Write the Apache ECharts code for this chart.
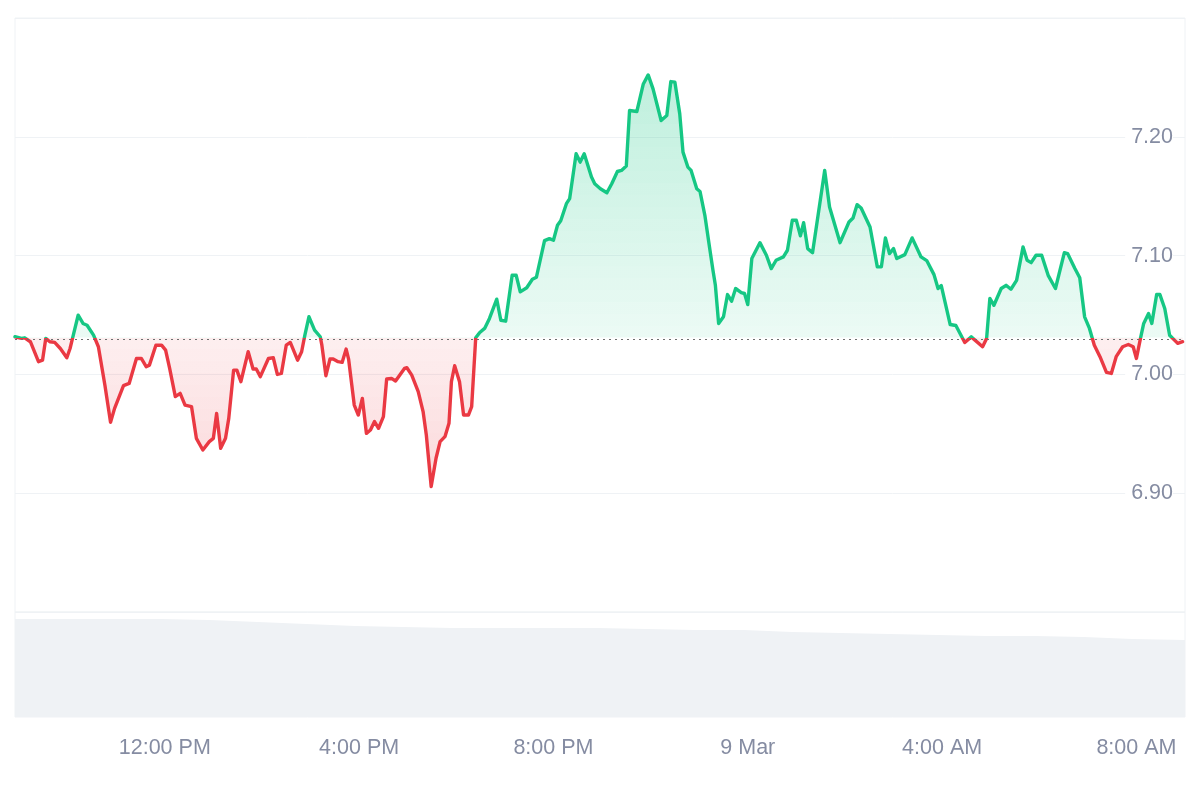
<!DOCTYPE html>
<html><head><meta charset="utf-8">
<script src="https://cdn.jsdelivr.net/npm/echarts@6/dist/echarts.min.js"></script>
<style>html,body{margin:0;padding:0;background:#fff}#c{width:1200px;height:800px}</style>
</head><body><div id="c"></div>
<script>
// ---- data ----
const startTime = '2024-03-08T08:55:00';
const baseline = 7.031;
const priceMinutes = [0,8,12,19,29,34,38,43,49,56,64,68,72,78,84,89,97,103,111,118,123,134,141,150,156,162,166,174,181,186,191,198,204,210,218,224,232,240,245,249,254,260,264,270,274,279,288,294,298,303,313,319,324,329,335,340,349,354,358,363,370,377,379,384,389,393,399,404,409,412,419,424,429,434,439,444,449,455,459,465,470,481,484,490,498,504,508,514,520,525,531,536,539,543,549,554,560,564,569,574,580,586,595,600,606,614,619,624,632,639,644,654,660,665,670,674,681,685,693,698,703,712,716,723,731,737,744,749,755,759,768,776,782,788,798,805,810,815,821,825,831,835,842,846,852,858,862,865,869,875,880,885,890,897,901,905,910,920,928,934,940,949,954,960,965,970,974,979,985,1000,1006,1019,1030,1035,1040,1045,1056,1065,1070,1075,1080,1085,1089,1099,1108,1119,1126,1135,1140,1144,1155,1162,1173,1181,1195,1200,1204,1209,1218,1224,1230,1237,1245,1250,1255,1261,1268,1276,1285,1296,1300,1309,1315,1321,1327,1333,1340,1348,1354,1360,1368,1375,1381,1385,1390,1394,1400,1404,1410,1414,1420,1426,1432,1436,1442];
const priceValues = [7.0317,7.0303,7.0308,7.0275,7.0107,7.0120,7.0303,7.0275,7.0269,7.0218,7.0140,7.0218,7.0330,7.0498,7.0429,7.0414,7.0330,7.0233,6.9910,6.9597,6.9714,6.9905,6.9924,7.0134,7.0134,7.0065,7.0078,7.0246,7.0246,7.0204,7.0050,6.9813,6.9840,6.9742,6.9729,6.9462,6.9364,6.9434,6.9462,6.9672,6.9378,6.9462,6.9630,7.0036,7.0036,6.9939,7.0191,7.0045,7.0045,6.9981,7.0134,7.0140,7.0000,7.0008,7.0246,7.0269,7.0120,7.0191,7.0330,7.0485,7.0372,7.0317,7.0246,6.9989,7.0129,7.0129,7.0107,7.0101,7.0213,7.0129,6.9742,6.9658,6.9798,6.9504,6.9532,6.9603,6.9546,6.9645,6.9961,6.9966,6.9944,7.0050,7.0056,6.9994,6.9855,6.9687,6.9490,6.9056,6.9294,6.9434,6.9476,6.9588,6.9939,7.0073,6.9939,6.9658,6.9658,6.9729,7.0308,7.0353,7.0387,7.0471,7.0633,7.0456,7.0448,7.0834,7.0834,7.0695,7.0729,7.0801,7.0818,7.1126,7.1143,7.1129,7.1255,7.1294,7.1437,7.1479,7.1857,7.1787,7.1857,7.1661,7.1605,7.1563,7.1529,7.1605,7.1708,7.1717,7.1754,7.2221,7.2213,7.2445,7.2521,7.2403,7.2137,7.2179,7.2465,7.2460,7.2193,7.1871,7.1745,7.1717,7.1563,7.1540,7.1339,7.1059,7.0876,7.0750,7.0429,7.0485,7.0672,7.0616,7.0723,7.0689,7.0681,7.0588,7.0975,7.1109,7.1003,7.0891,7.0961,7.0989,7.1045,7.1297,7.1297,7.1166,7.1277,7.1059,7.1025,7.1717,7.1409,7.1109,7.1283,7.1317,7.1429,7.1401,7.1241,7.0905,7.0905,7.1149,7.1017,7.1059,7.0975,7.1008,7.1149,7.0989,7.0958,7.0840,7.0723,7.0748,7.0420,7.0412,7.0269,7.0316,7.0233,7.0303,7.0639,7.0582,7.0723,7.0750,7.0717,7.0792,7.1073,7.0961,7.0941,7.1003,7.1003,7.0834,7.0723,7.1025,7.1017,7.0891,7.0813,7.0485,7.0387,7.0246,7.0149,7.0017,7.0008,7.0149,7.0233,7.0252,7.0233,7.0134,7.0303,7.0429,7.0513,7.0429,7.0672,7.0672,7.0555,7.0330,7.0288,7.0261,7.0275];
const volumeMinutes = [0,60,120,180,240,300,360,420,480,540,600,660,720,780,840,900,960,1020,1080,1140,1200,1260,1320,1380,1445];
const volumeValues = [93.3,93.3,93.3,93.3,92.4,90.5,88.6,86.7,85.7,84.8,84.8,84.8,84.8,83.8,82.9,82.9,81.0,80.0,79.0,78.1,77.1,77.1,76.2,74.3,73.3];
const xTickTimes = ['2024-03-08T12:00:00','2024-03-08T16:00:00','2024-03-08T20:00:00','2024-03-09T00:00:00','2024-03-09T04:00:00','2024-03-09T08:00:00'];
const xTickLabels = ['12:00 PM','4:00 PM','8:00 PM','9 Mar','4:00 AM','8:00 AM'];
const yMin = 6.8, yMax = 7.3, yStep = 0.1;

// ---- build ----
const t0 = new Date(startTime).getTime();
const MIN = 60000, HOUR = 3600000;
const priceData = priceMinutes.map((m, i) => [t0 + m * MIN, priceValues[i]]);
const volumeData = volumeMinutes.map((m, i) => [t0 + m * MIN, volumeValues[i]]);
const tickMs = xTickTimes.map(s => new Date(s).getTime());
const xMin = t0, xMax = t0 + 1445 * MIN;

const GREEN = '#16c784', RED = '#ea3943';
const FONT = '"Liberation Sans", Arial, Helvetica, sans-serif';

// area fill: alpha grows with distance from the baseline (pieces in ascending order)
const STEP = 0.01, N = 40;
const alphaFor = k => (0.08 + 0.9 * (k + 0.5) * STEP).toFixed(3);
const areaPieces = [];
for (let k = N - 1; k >= 0; k--) {
  areaPieces.push({ gte: +(baseline - (k + 1) * STEP).toFixed(4), lt: +(baseline - k * STEP).toFixed(4), color: `rgba(234,57,67,${alphaFor(k)})` });
}
for (let k = 0; k < N; k++) {
  areaPieces.push({ gte: +(baseline + k * STEP).toFixed(4), lt: +(baseline + (k + 1) * STEP).toFixed(4), color: `rgba(22,199,132,${alphaFor(k)})` });
}

const chart = echarts.init(document.getElementById('c'), null, { renderer: 'canvas' });
chart.setOption({
  animation: false,
  backgroundColor: '#fff',
  grid: [
    { left: 15, right: 15, top: 18, height: 594, show: true, borderColor: '#eff2f5', borderWidth: 1 },
    { left: 15, right: 15, top: 612, height: 105, show: true, borderColor: '#eff2f5', borderWidth: 1 }
  ],
  xAxis: [
    { type: 'time', gridIndex: 0, min: xMin, max: xMax, show: false },
    { type: 'time', gridIndex: 1, min: xMin, max: xMax, minInterval: 4 * HOUR, maxInterval: 4 * HOUR,
      axisLine: { show: false }, axisTick: { show: false }, splitLine: { show: false },
      axisLabel: {
        formatter: v => { const i = tickMs.findIndex(t => Math.abs(t - v) < MIN); return i >= 0 ? xTickLabels[i] : ''; },
        color: '#858ca2', fontSize: 21.5, fontFamily: FONT, margin: 20, hideOverlap: false
      }
    }
  ],
  yAxis: [
    { type: 'value', gridIndex: 0, position: 'right', min: yMin, max: yMax, interval: yStep,
      axisLine: { show: false }, axisTick: { show: false },
      splitLine: { show: true, lineStyle: { color: '#eff2f5', width: 1 } },
      axisLabel: { inside: true, margin: 12, showMinLabel: false, showMaxLabel: false,
        formatter: v => v.toFixed(2), color: '#858ca2', fontSize: 21.5, fontFamily: FONT,
        backgroundColor: '#fff', padding: [0, 0, 0, 6] }
    },
    { type: 'value', gridIndex: 1, min: 0, max: 100, show: false }
  ],
  visualMap: [
    { type: 'piecewise', show: false, seriesIndex: 0, dimension: 1,
      pieces: [{ gte: 0, lt: baseline, color: RED }, { gte: baseline, lte: 100, color: GREEN }] },
    { type: 'piecewise', show: false, seriesIndex: 1, dimension: 1, pieces: areaPieces }
  ],
  series: [
    { type: 'line', xAxisIndex: 0, yAxisIndex: 0, data: priceData, showSymbol: false, z: 4,
      lineStyle: { width: 3.4, cap: 'round', join: 'round' }, silent: true },
    { type: 'line', xAxisIndex: 0, yAxisIndex: 0, data: priceData, showSymbol: false, z: 2,
      lineStyle: { width: 0 }, areaStyle: { origin: baseline, opacity: 1 }, silent: true,
      markLine: { silent: true, symbol: 'none', label: { show: false },
        lineStyle: { type: [2, 4], color: '#6f6f6f', width: 1.2 },
        data: [{ yAxis: baseline }] } },
    { type: 'line', xAxisIndex: 1, yAxisIndex: 1, data: volumeData, showSymbol: false,
      lineStyle: { width: 0 }, areaStyle: { color: '#eff2f5', opacity: 1 }, silent: true, z: 1 }
  ]
});
</script>
</body></html>
